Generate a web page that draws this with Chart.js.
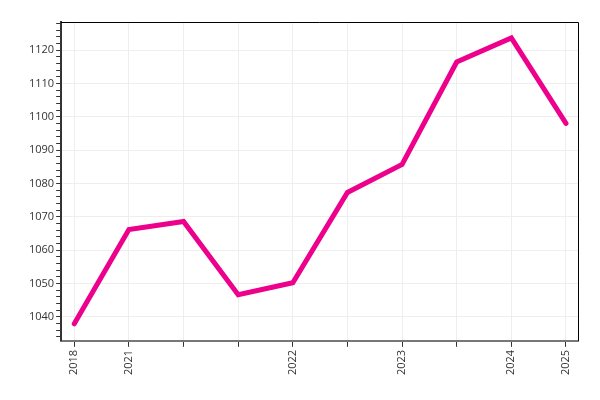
<!DOCTYPE html>
<html lang="en">
<head>
  <meta charset="UTF-8">
  <title>Line chart</title>
  <script src="https://cdn.jsdelivr.net/npm/chart.js"></script>
  <style>
    body { margin: 0; background: #fff; }
    #wrap { width: 600px; height: 400px; }
  </style>
</head>
<body>
  <div id="wrap"><canvas id="lineChart" width="600" height="400"></canvas></div>

  <script>
    // x positions are category indexes; some carry no label
    const xLabels = ['2018', '2021', '', '', '2022', '', '2023', '', '2024', '2025'];
    const values = [1037.9, 1066.2, 1068.6, 1046.6, 1050.2, 1077.3, 1085.7, 1116.4, 1123.6, 1098.0];
    const yMajorTicks = [1040, 1050, 1060, 1070, 1080, 1090, 1100, 1110, 1120];

    const points = values.map((v, i) => ({ x: i, y: v }));

    // top/right frame of the plot area
    const framePlugin = {
      id: 'frame',
      afterDraw(chart) {
        const { ctx, chartArea: a } = chart;
        ctx.save();
        ctx.strokeStyle = '#000';
        ctx.lineWidth = 1;
        ctx.beginPath();
        ctx.moveTo(a.left, a.top + 0.5);
        ctx.lineTo(a.right + 0.5, a.top + 0.5);
        ctx.lineTo(a.right + 0.5, a.bottom);
        ctx.stroke();
        ctx.restore();
      }
    };

    const ctx = document.getElementById('lineChart').getContext('2d');
    new Chart(ctx, {
      type: 'line',
      data: {
        datasets: [{
          data: points,
          borderColor: '#ec008c',
          borderWidth: 5,
          borderCapStyle: 'round',
          pointRadius: 0,
          tension: 0
        }]
      },
      options: {
        responsive: false,
        animation: false,
        layout: { padding: { left: 27, right: 22, top: 22, bottom: 22 } },
        plugins: {
          legend: { display: false },
          tooltip: { enabled: false }
        },
        scales: {
          x: {
            type: 'linear',
            min: -0.24,
            max: 9.22,
            afterBuildTicks(scale) {
              scale.ticks = xLabels.map((_, i) => ({ value: i }));
            },
            ticks: {
              autoSkip: false,
              minRotation: 90,
              maxRotation: 90,
              color: '#333',
              font: { family: 'Open Sans', size: 11 },
              callback: (v) => xLabels[v] ?? ''
            },
            grid: { color: '#eeeeee', tickColor: '#333', tickLength: 6, tickWidth: 1 },
            border: { color: '#777', width: 2 }
          },
          y: {
            min: 1032.8,
            max: 1128.4,
            afterBuildTicks(scale) {
              const t = [];
              for (let v = 1034; v <= 1128; v += 2) t.push({ value: v });
              scale.ticks = t;
            },
            ticks: {
              autoSkip: false,
              color: '#333',
              font: { family: 'Open Sans', size: 11 },
              padding: 2,
              callback: (v) => yMajorTicks.includes(v) ? String(v) : ''
            },
            grid: {
              color: (c) => yMajorTicks.includes(c.tick?.value) ? '#eeeeee' : 'rgba(0,0,0,0)',
              tickColor: '#333',
              tickLength: 5,
              tickWidth: 1
            },
            border: { color: '#333', width: 2 }
          }
        }
      },
      plugins: [framePlugin]
    });
  </script>
</body>
</html>
